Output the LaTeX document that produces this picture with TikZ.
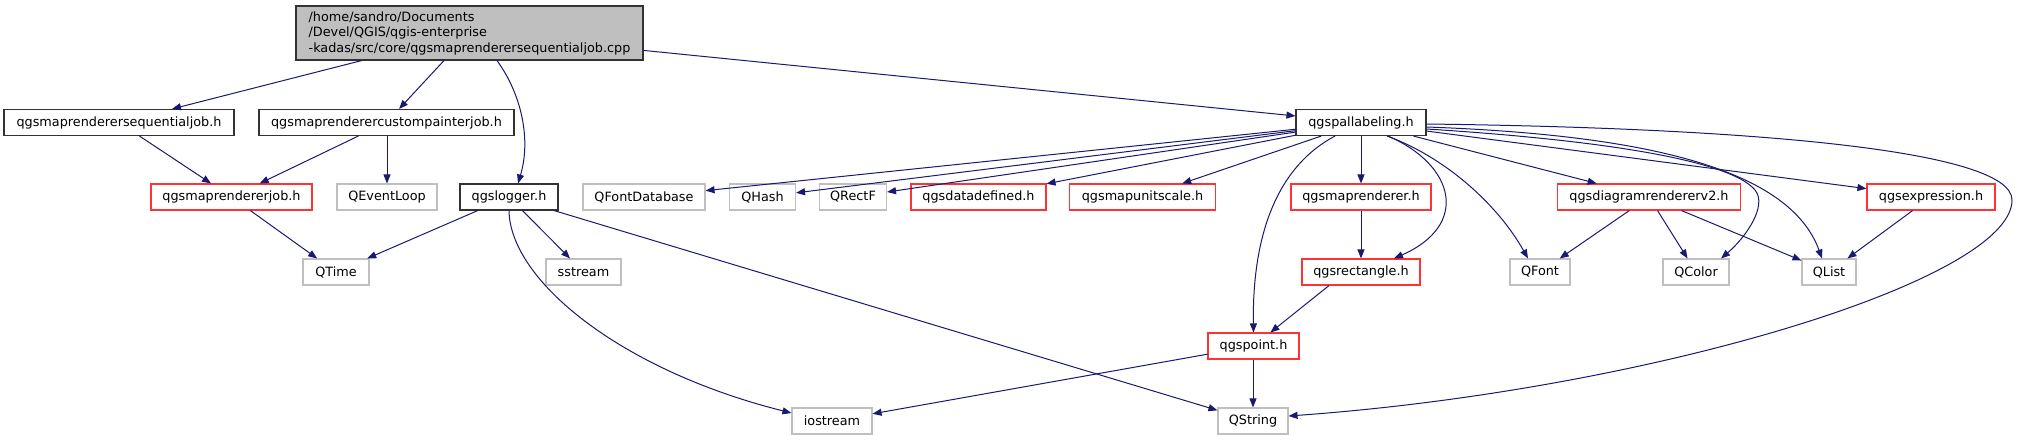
\documentclass[tikz,border=0pt]{standalone}
\usepackage{fontspec}
\setmainfont{DejaVu Sans}
\usetikzlibrary{arrows.meta,calc}
\definecolor{edgec}{HTML}{191970}
\definecolor{sysgray}{HTML}{BFBFBF}
\definecolor{nodered}{HTML}{FF3333}
\begin{document}
\begin{tikzpicture}[x=1pt,y=-1pt,
  nd/.style={draw, rectangle, line width=1.1pt, inner sep=0pt, font=\fontsize{12.8}{15.5}\selectfont, minimum height=26pt},
  blk/.style={nd, draw=black!80},
  rednode/.style={nd, draw=nodered},
  sys/.style={nd, draw=sysgray},
  arr/.style={draw=edgec, line width=1pt, -{Triangle[length=9pt,width=7pt]}}
]
\useasboundingbox (0,0) rectangle (2018,440);
% row 0
\node[blk, fill=sysgray, minimum width=347pt, minimum height=54pt, align=left] (main) at (469.5,33) {/home/sandro/Documents\\/Devel/QGIS/qgis-enterprise\\-kadas/src/core/qgsmaprenderersequentialjob.cpp};
% row 1
\node[blk, minimum width=230pt] (seq) at (119,122.5) {qgsmaprenderersequentialjob.h};
\node[blk, minimum width=255pt] (cust) at (386.5,122.5) {qgsmaprenderercustompainterjob.h};
\node[blk, minimum width=130pt] (pal) at (1361,122.5) {qgspallabeling.h};
% row 2
\node[rednode, minimum width=161pt] (mrjob) at (231.5,197) {qgsmaprendererjob.h};
\node[sys, minimum width=100pt] (evl) at (387,197) {QEventLoop};
\node[blk, minimum width=98pt] (log) at (509,197) {qgslogger.h};
\node[sys, minimum width=122pt] (fdb) at (644,197) {QFontDatabase};
\node[sys, minimum width=66pt] (hash) at (762.5,197) {QHash};
\node[sys, minimum width=67pt] (rectf) at (853,197) {QRectF};
\node[rednode, minimum width=135pt] (dd) at (978.5,197) {qgsdatadefined.h};
\node[rednode, minimum width=146pt] (mus) at (1142.5,197) {qgsmapunitscale.h};
\node[rednode, minimum width=140pt] (mr) at (1361,197) {qgsmaprenderer.h};
\node[rednode, minimum width=183pt] (diag) at (1649,197) {qgsdiagramrendererv2.h};
\node[rednode, minimum width=128pt] (expr) at (1931,197) {qgsexpression.h};
% row 3
\node[sys, minimum width=66pt] (qtime) at (336,272) {QTime};
\node[sys, minimum width=75pt] (sstr) at (583.5,272) {sstream};
\node[rednode, minimum width=118pt] (rect) at (1361,272) {qgsrectangle.h};
\node[sys, minimum width=60pt] (qfont) at (1540,272) {QFont};
\node[sys, minimum width=66pt] (qcolor) at (1696,272) {QColor};
\node[sys, minimum width=54pt] (qlist) at (1829,272) {QList};
% row 4
\node[rednode, minimum width=91pt] (point) at (1253.5,346) {qgspoint.h};
% row 5
\node[sys, minimum width=80pt] (ios) at (832,421) {iostream};
\node[sys, minimum width=70pt] (qstr) at (1253,421) {QString};

% edges
\draw[arr] (main) -- (seq);
\draw[arr] (main) -- (cust);
\draw[arr] ([xshift=27.5pt]main.south) .. controls (522,95) and (531,140) .. ([xshift=9pt]log.north);
\draw[arr] (main) -- (pal);
\draw[arr] (seq) -- (mrjob);
\draw[arr] (cust) -- (mrjob);
\draw[arr] (evl.north |- cust.south) -- (evl.north);
\draw[arr] (mrjob) -- (qtime);
\draw[arr] (log) -- (qtime);
\draw[arr] (log) -- (sstr);
\draw[arr] (log.south) .. controls (510,280) and (620,370) .. ([yshift=8pt]ios.west);
\draw[arr] (log) -- (qstr);
\draw[arr] (point) -- (ios);
\draw[arr] (qstr.north |- point.south) -- (qstr.north);
\draw[arr] ([xshift=-32pt]rect.south) -- (point);
\draw[arr] (mr) -- (rect);
\draw[arr] (pal) -- (mr);
\draw[arr] ([xshift=-26pt]pal.south) .. controls (1280,165) and (1252,230) .. (point.north);
\draw[arr] ([xshift=27pt]pal.south) .. controls (1455,165) and (1470,225) .. ([xshift=33pt]rect.north);
\draw[arr] (pal) -- (fdb);
\draw[arr] (pal) -- (hash);
\draw[arr] (pal) -- (rectf);
\draw[arr] (pal) -- (dd);
\draw[arr] (pal) -- (mus);
\draw[arr] ([xshift=26pt]pal.south) .. controls (1440,155) and (1495,200) .. ([xshift=-12pt]qfont.north);
\draw[arr] (pal) -- (diag);
\draw[arr] ([yshift=-6.5pt]pal.east) .. controls (1600,140) and (1730,160) .. (1755,190) .. controls (1768,206) and (1745,238) .. ([xshift=25pt]qcolor.north);
\draw[arr] ([yshift=-4.5pt]pal.east) .. controls (1650,135) and (1790,170) .. ([xshift=-7pt]qlist.north);
\draw[arr] (pal) -- (expr);
\draw[arr] ([yshift=-1.5pt]pal.east) .. controls (1750,128) and (2012,150) .. (2012,200) .. controls (2012,280) and (1650,390) .. ([yshift=5pt]qstr.east);
\draw[arr] (diag) -- (qfont);
\draw[arr] (diag) -- (qcolor);
\draw[arr] (diag) -- (qlist);
\draw[arr] (expr) -- (qlist);
\end{tikzpicture}
\end{document}
